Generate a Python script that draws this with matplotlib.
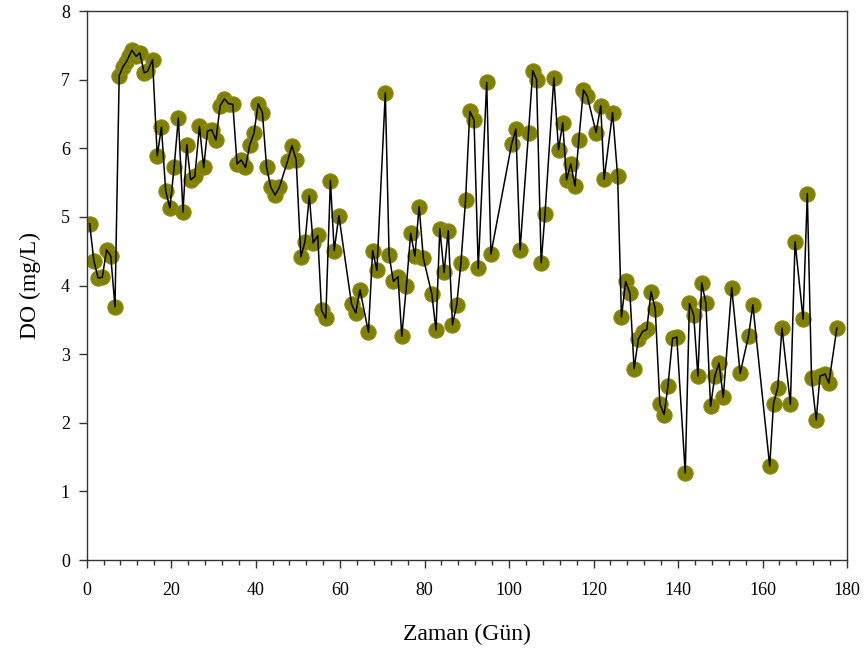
import numpy as np
import matplotlib
matplotlib.use('Agg')
import matplotlib.pyplot as plt
from matplotlib.ticker import MultipleLocator

plt.rcParams['font.family'] = ['Liberation Serif', 'DejaVu Serif']

# gun (days) and dissolved oxygen (mg/L)
gun = [0.7, 1.7, 2.7, 3.7, 4.7, 5.7, 6.7, 7.7, 8.6, 9.4, 10.1, 10.7, 11.7, 12.6, 13.6, 14.4, 15.6,
       16.7, 17.7, 18.7, 19.7, 20.7, 21.7, 22.8, 23.7, 24.6, 25.6, 26.7, 27.7, 28.6, 29.6, 30.6,
       31.6, 32.6, 33.6, 34.6, 35.6, 36.6, 37.6, 38.6, 39.6, 40.6, 41.6, 42.6, 43.6, 44.6, 45.6,
       47.6, 48.6, 49.6, 50.7, 51.7, 52.7, 53.6, 54.7, 55.6, 56.6, 57.7, 58.6, 59.7,
       62.7, 63.7, 64.7, 66.7, 67.7, 68.7, 70.7, 71.6, 72.6, 73.7, 74.6, 75.7, 76.7, 77.7, 78.7, 79.7,
       81.7, 82.7, 83.6, 84.6, 85.6, 86.6, 87.6, 88.6, 89.7, 90.7, 91.7, 92.7, 94.7, 95.7,
       100.6, 101.6, 102.6, 104.6, 105.6, 106.5, 107.6, 108.5, 110.6, 111.7, 112.7, 113.6, 114.6,
       115.6, 116.5, 117.6, 118.5, 120.6, 121.7, 122.5, 124.5, 125.7, 126.6, 127.6, 128.6, 129.6,
       130.6, 131.6, 132.6, 133.6, 134.6, 135.7, 136.7, 137.6, 138.7, 139.7, 141.7, 142.7, 143.7,
       144.7, 145.6, 146.6, 147.7, 148.7, 149.7, 150.7, 152.7, 154.7, 156.7, 157.7, 161.7, 162.6,
       163.6, 164.6, 166.6, 167.7, 169.6, 170.6, 171.6, 172.7, 173.6, 174.8, 175.7, 177.6]

do = [4.90, 4.36, 4.11, 4.12, 4.52, 4.43, 3.69, 7.06, 7.19, 7.26, 7.35, 7.43, 7.34, 7.39, 7.10, 7.12, 7.29,
      5.89, 6.31, 5.38, 5.13, 5.72, 6.44, 5.07, 6.05, 5.54, 5.59, 6.32, 5.72, 6.25, 6.27, 6.12,
      6.62, 6.72, 6.65, 6.64, 5.77, 5.83, 5.72, 6.05, 6.22, 6.65, 6.52, 5.72, 5.43, 5.32, 5.43,
      5.82, 6.04, 5.83, 4.42, 4.64, 5.31, 4.62, 4.73, 3.64, 3.52, 5.53, 4.51, 5.02,
      3.73, 3.60, 3.94, 3.32, 4.51, 4.22, 6.81, 4.44, 4.06, 4.13, 3.26, 4.00, 4.76, 4.43, 5.15, 4.40,
      3.88, 3.35, 4.83, 4.19, 4.80, 3.43, 3.72, 4.33, 5.25, 6.54, 6.41, 4.25, 6.96, 4.46,
      6.06, 6.28, 4.52, 6.23, 7.13, 7.00, 4.33, 5.04, 7.03, 5.98, 6.37, 5.54, 5.77,
      5.45, 6.12, 6.85, 6.76, 6.23, 6.62, 5.55, 6.52, 5.59, 3.54, 4.06, 3.89, 2.79,
      3.22, 3.33, 3.36, 3.91, 3.66, 2.27, 2.12, 2.53, 3.23, 3.25, 1.27, 3.74, 3.57,
      2.68, 4.04, 3.74, 2.24, 2.68, 2.87, 2.37, 3.97, 2.72, 3.27, 3.72, 1.37, 2.28,
      2.51, 3.38, 2.27, 4.64, 3.51, 5.34, 2.65, 2.04, 2.68, 2.71, 2.58, 3.38]

fig = plt.figure(figsize=(8.65, 6.57), dpi=100)
ax = fig.add_axes([0.1002, 0.1476, 0.879, 0.8356])

ax.plot(gun, do, 'o', color='#808000', markersize=11, markeredgecolor='#8c8c14',
        markeredgewidth=0.8, zorder=2)
ax.plot(gun, do, '-', color='black', linewidth=1.1, zorder=3)

ax.set_xlim(0, 180)
ax.set_ylim(0, 8)
ax.xaxis.set_major_locator(MultipleLocator(20))
ax.xaxis.set_minor_locator(MultipleLocator(4))
ax.yaxis.set_major_locator(MultipleLocator(1))

for s in ax.spines.values():
    s.set_linewidth(1.0)
    s.set_color('#333333')
ax.tick_params(axis='both', which='major', direction='out', length=6, width=1.0,
               color='#333333', labelsize=13, pad=6)
ax.tick_params(axis='x', which='minor', direction='out', length=3.5, width=1.0, color='#333333')
ax.tick_params(axis='x', which='major', pad=10)

ax.set_xlabel('Zaman (Gün)', fontsize=17, labelpad=18)
ax.set_ylabel('DO (mg/L)', fontsize=17, labelpad=14)

fig.savefig('out.png', dpi=100)
